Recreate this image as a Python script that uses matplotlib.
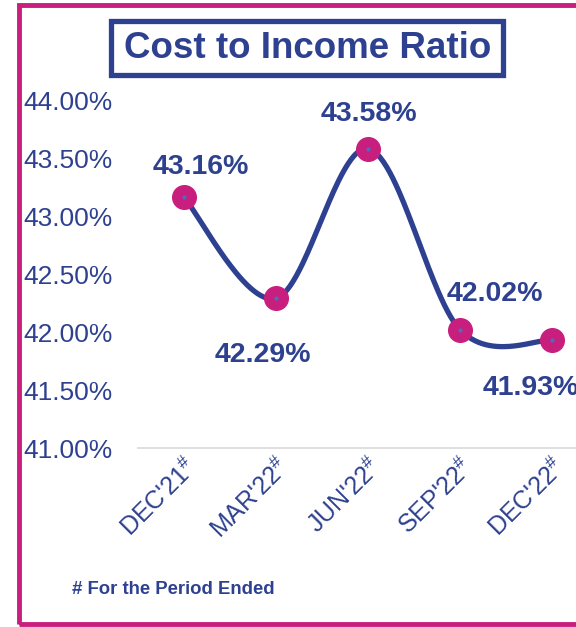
import numpy as np
import matplotlib
matplotlib.use("Agg")
import matplotlib.pyplot as plt
from matplotlib.patches import Rectangle

# ---------------------------------------------------------------------------
# Data
# ---------------------------------------------------------------------------
periods = ["DEC'21", "MAR'22", "JUN'22", "SEP'22", "DEC'22"]
ratio = [43.16, 42.29, 43.58, 42.02, 41.93]
value_labels = ["43.16%", "42.29%", "43.58%", "42.02%", "41.93%"]
y_ticks = [41.0, 41.5, 42.0, 42.5, 43.0, 43.5, 44.0]

# label offsets in pixels from each marker
label_offsets = [(17, 30), (-13, -57), (1, 35), (35, 36), (-21, -48)]

NAVY = "#2E4190"
PINK = "#C81E7E"

plt.rcParams["font.family"] = ["Liberation Sans", "DejaVu Sans"]
plt.rcParams["mathtext.fontset"] = "custom"
plt.rcParams["mathtext.rm"] = "Liberation Sans"


def smooth_curve(xs, ys, sx=92.0, sy=116.0, n=60):
    """Excel-like smoothed line: cubic Bezier segments, Catmull-Rom tangents."""
    px = np.asarray(xs, float) * sx
    py = np.asarray(ys, float) * sy
    pts = np.column_stack([px, py])
    out = []
    for i in range(len(pts) - 1):
        p0 = pts[max(i - 1, 0)]
        p1 = pts[i]
        p2 = pts[i + 1]
        p3 = pts[min(i + 2, len(pts) - 1)]
        c1 = p1 + (p2 - p0) / 6.0
        c2 = p2 - (p3 - p1) / 6.0
        t = np.linspace(0, 1, n)[:, None]
        seg = ((1 - t) ** 3) * p1 + 3 * ((1 - t) ** 2) * t * c1 + 3 * (1 - t) * t ** 2 * c2 + t ** 3 * p2
        out.append(seg if i == 0 else seg[1:])
    curve = np.vstack(out)
    return curve[:, 0] / sx, curve[:, 1] / sy


fig = plt.figure(figsize=(5.76, 6.27), dpi=100)
ax = fig.add_axes([138 / 576, 179 / 627, 460 / 576, 348 / 627])

x = np.arange(len(periods))
cx, cy = smooth_curve(x, ratio)
ax.plot(cx, cy, color=NAVY, lw=3.8, solid_capstyle="round", zorder=2)
ax.plot(x, ratio, "o", color=PINK, ms=17, mec=PINK, zorder=3)
ax.plot(x, ratio, "o", color="#4A6FC0", ms=2, zorder=4)

for xi, yi, lab, off in zip(x, ratio, value_labels, label_offsets):
    ax.annotate(lab, (xi, yi), xytext=off, textcoords="offset pixels",
                ha="center", va="center", fontsize=20.5, fontweight="bold",
                color=NAVY, annotation_clip=False, zorder=5)

ax.set_xlim(-0.5, len(periods) - 0.5)
ax.set_ylim(41.0, 44.0)
ax.set_yticks(y_ticks)
ax.set_yticklabels([f"{v:.2f}%" for v in y_ticks], fontsize=19, color=NAVY)
ax.set_xticks(x)
ax.set_xticklabels([p + r"$^{\#}$" for p in periods], rotation=45,
                   ha="right", rotation_mode="anchor", fontsize=18, color=NAVY)
ax.tick_params(axis="y", length=0, pad=18)
ax.tick_params(axis="x", length=0, pad=4)
for side in ["left", "right", "top"]:
    ax.spines[side].set_visible(False)
ax.spines["bottom"].set_color("#D9D9D9")
ax.spines["bottom"].set_linewidth(1.2)

# pink outer frame (open on the right)
fig.patches.append(Rectangle((19 / 576, 3 / 627), 600 / 576, 619 / 627,
                             transform=fig.transFigure, fill=False,
                             edgecolor=PINK, lw=3.5, zorder=0))

# title box
fig.patches.append(Rectangle((111 / 576, 1 - 75 / 627), 392 / 576, 54 / 627,
                             transform=fig.transFigure, fill=False,
                             edgecolor=NAVY, lw=3.8, zorder=1))
fig.text(308 / 576, 1 - 48 / 627, "Cost to Income Ratio", ha="center",
         va="center", fontsize=26.5, fontweight="bold", color=NAVY)

fig.text(72 / 576, 1 - 590 / 627, "# For the Period Ended", ha="left",
         va="center", fontsize=13.3, fontweight="bold", color=NAVY)

fig.savefig("out.png", dpi=100)
